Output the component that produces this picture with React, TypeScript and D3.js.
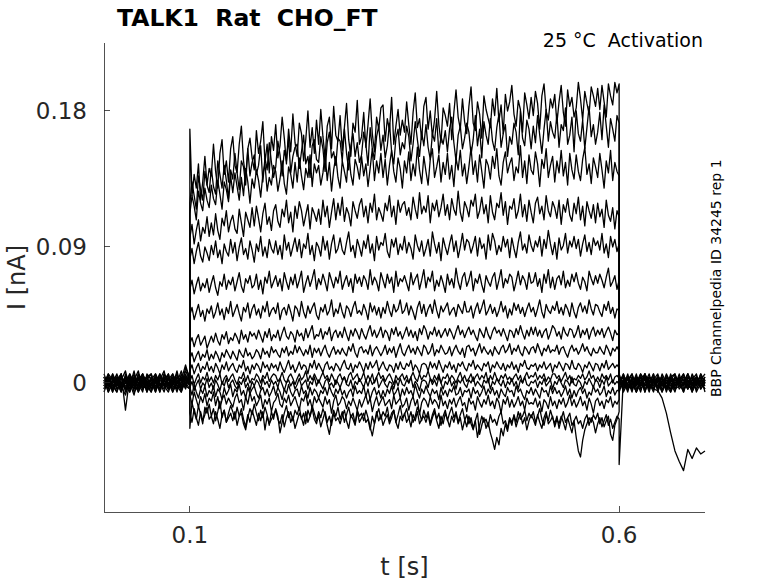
import * as d3 from 'd3';

// sweep timing (s)
const stepOn = 0.1;
const stepOff = 0.6;
const dtBase = 0.005; // sampling of the holding segments
const dtStep = 0.0025; // sampling during the step

const xTicks = [0.1, 0.6];
const yTicks = [0, 0.09, 0.18];
const xDomain: [number, number] = [0, 0.7];
const yDomain: [number, number] = [-0.0854, 0.225];

// currents in pA, one row per sweep
// before the step: 0 .. 0.1 s
const preStep: number[][] = [
  [2, -4, 6, 0, -6, 4, -2, 8, -4, 2, -6, 4, 0, -4, 6, -2, 2, -6, 4, 0, 2],
  [-2, 4, -6, 2, 6, -4, 0, -8, 4, -2, 2, 6, -4, 0, -6, 4, -2, 8, -4, 2, 0],
  [4, -2, 0, -6, 2, 8, -4, 2, -2, 6, -4, 0, 4, -6, 2, -2, 6, 0, -4, 10, 4],
  [0, 6, -4, 4, -2, -8, 2, -4, 6, 0, -2, 4, -6, 2, 8, -4, 0, 4, -2, 6, -2],
  [-4, 0, 4, -2, 6, -18, 4, 0, -6, 2, 4, -4, 0, 6, -2, -6, 2, 0, 8, -2, 4],
  [6, -2, 2, -4, 0, 4, -6, 2, 8, -4, 0, -2, 4, -4, 2, 6, -6, 0, 2, 12, 2],
  [-2, 2, -6, 4, -4, 0, 6, -2, -4, 4, 0, -6, 2, 4, -2, 0, 4, -4, 6, 0, -4],
  [2, -6, 0, 6, -2, 2, -4, 4, 0, -6, 6, 2, -2, -4, 4, 0, -6, 2, -2, 4, 0],
  [0, 4, -2, -6, 4, 0, 2, -4, 6, -2, -4, 2, 6, -2, 0, -4, 4, 2, -6, 2, 6],
  [-6, 2, 4, -2, 0, -4, 6, 0, -2, 4, -6, 0, 2, -4, 6, 2, -2, -4, 0, 8, 2],
  [4, 0, -4, 2, -6, 6, 0, -2, 2, -4, 4, 6, -2, 0, -4, 4, 0, 6, -2, -2, -4],
  [-4, 6, 2, -2, 4, -2, -6, 4, 0, 2, -2, -6, 4, 2, -2, 6, -4, 0, 4, 2, -2],
  [2, -2, 6, -4, 0, 2, 4, -6, -2, 6, 0, 2, -4, 6, 0, -4, 2, -2, -6, 4, 0],
  [0, -4, 2, 4, -4, 0, -2, 6, -6, 0, 4, -2, 2, -6, 4, 0, -2, 4, 2, -4, 6],
  [-2, 4, -2, 0, 6, -6, 2, 0, 4, -4, 2, -4, 6, 0, -2, 2, 6, -2, 0, 4, -2],
  [4, -6, 0, 2, -2, 4, 0, -4, 2, 6, -2, 0, -6, 4, 2, -2, 0, 6, -4, 0, 4],
];

// during the step: 0.1 .. 0.6 s
const duringStep: number[][] = [
  [168, 124, 138, 129, 145, 121, 133, 150, 131, 142,
   137, 158, 140, 129, 152, 161, 138, 147, 133, 155,
   163, 144, 139, 158, 170, 147, 136, 155, 162, 149,
   141, 167, 152, 160, 173, 146, 158, 139, 163, 154,
   171, 149, 157, 176, 162, 145, 168, 153, 178, 159,
   150, 172, 165, 147, 161, 180, 156, 169, 152, 174,
   158, 181, 163, 149, 170, 176, 155, 183, 164, 160,
   177, 154, 169, 185, 161, 150, 172, 166, 187, 158,
   163, 179, 156, 171, 188, 165, 153, 176, 168, 182,
   184, 160, 175, 167, 189, 158, 170, 181, 164, 174,
   166, 186, 171, 158, 179, 192, 169, 175, 161, 183,
   189, 168, 180, 163, 174, 193, 171, 159, 182, 177,
   170, 185, 161, 179, 194, 176, 168, 188, 173, 165,
   183, 196, 172, 167, 186, 178, 162, 190, 181, 175,
   169, 188, 177, 195, 173, 184, 165, 191, 180, 186,
   197, 178, 170, 187, 181, 166, 192, 184, 175, 189,
   177, 193, 185, 168, 190, 198, 180, 174, 188, 182,
   191, 172, 186, 197, 179, 170, 194, 183, 189, 176,
   182, 199, 188, 174, 193, 185, 178, 196, 190, 183,
   195, 181, 197, 186, 176, 198, 190, 184, 199, 192, 198],
  [119, 133, 124, 115, 137, 128, 121, 140, 131, 126,
   142, 130, 125, 147, 138, 129, 144, 134, 122, 141,
   135, 152, 139, 128, 147, 143, 131, 155, 137, 146,
   151, 138, 144, 157, 133, 149, 141, 159, 146, 136,
   143, 160, 151, 137, 154, 147, 162, 139, 150, 156,
   158, 142, 153, 164, 145, 150, 136, 157, 161, 148,
   146, 163, 155, 140, 159, 166, 149, 153, 144, 162,
   160, 147, 168, 152, 141, 157, 165, 150, 159, 146,
   151, 166, 158, 144, 169, 155, 148, 163, 170, 154,
   164, 149, 157, 172, 153, 145, 162, 168, 151, 159,
   155, 170, 163, 147, 158, 173, 161, 150, 166, 157,
   171, 156, 148, 165, 160, 175, 152, 163, 158, 167,
   153, 168, 176, 159, 147, 164, 170, 155, 162, 172,
   166, 151, 161, 177, 157, 168, 149, 173, 164, 158,
   175, 160, 154, 169, 178, 156, 165, 171, 150, 163,
   158, 172, 166, 151, 180, 162, 157, 174, 168, 155,
   170, 159, 177, 164, 152, 168, 181, 160, 173, 166,
   162, 178, 156, 171, 167, 182, 158, 164, 176, 153,
   180, 165, 160, 174, 155, 169, 183, 163, 171, 158,
   166, 179, 161, 184, 170, 156, 175, 168, 160, 177, 172],
  [112, 124, 117, 108, 127, 119, 114, 129, 121, 116,
   131, 122, 118, 134, 125, 115, 133, 128, 120, 137,
   126, 139, 130, 121, 136, 124, 142, 133, 119, 135,
   129, 141, 134, 123, 138, 145, 127, 136, 131, 144,
   140, 127, 135, 147, 132, 125, 143, 138, 129, 146,
   133, 149, 137, 128, 142, 136, 151, 130, 145, 139,
   144, 131, 139, 152, 134, 146, 127, 141, 150, 136,
   129, 147, 140, 133, 153, 138, 131, 148, 143, 135,
   150, 137, 145, 130, 142, 155, 134, 147, 139, 152,
   136, 148, 131, 144, 154, 140, 133, 149, 142, 129,
   147, 139, 153, 134, 145, 137, 156, 141, 132, 150,
   140, 131, 148, 155, 136, 143, 151, 133, 146, 138,
   152, 135, 144, 130, 149, 141, 154, 137, 145, 132,
   143, 156, 138, 147, 133, 151, 140, 129, 148, 144,
   135, 150, 142, 155, 137, 131, 146, 153, 139, 145,
   149, 134, 143, 139, 157, 136, 147, 132, 151, 141,
   138, 153, 145, 130, 148, 142, 155, 136, 144, 150,
   133, 147, 139, 154, 137, 146, 131, 152, 141, 135,
   151, 140, 134, 148, 156, 138, 145, 132, 149, 143,
   136, 152, 141, 129, 147, 139, 154, 134, 146, 140, 137],
  [96, 105, 92, 101, 108, 94, 103, 99, 110, 97,
   106, 98, 112, 101, 95, 109, 104, 114, 100, 107,
   111, 102, 99, 115, 106, 97, 113, 108, 103, 116,
   104, 117, 109, 100, 112, 119, 105, 110, 101, 114,
   118, 107, 103, 115, 110, 121, 106, 113, 100, 117,
   109, 120, 114, 104, 111, 118, 102, 116, 112, 107,
   115, 105, 121, 110, 117, 103, 113, 122, 108, 119,
   111, 123, 107, 116, 112, 104, 120, 114, 109, 118,
   122, 110, 117, 106, 119, 113, 125, 108, 116, 112,
   107, 119, 114, 124, 110, 117, 105, 121, 113, 118,
   120, 111, 116, 108, 123, 115, 109, 126, 112, 117,
   113, 124, 106, 119, 114, 121, 110, 116, 125, 111,
   118, 108, 122, 115, 111, 127, 113, 107, 120, 116,
   110, 121, 117, 125, 109, 114, 123, 112, 118, 106,
   124, 113, 108, 119, 116, 126, 111, 120, 105, 117,
   115, 122, 109, 114, 125, 110, 118, 107, 121, 113,
   106, 119, 123, 112, 117, 108, 124, 114, 110, 120,
   116, 109, 121, 105, 118, 113, 122, 111, 107, 119,
   112, 123, 108, 117, 104, 120, 114, 109, 118, 106,
   119, 110, 115, 103, 121, 111, 107, 116, 102, 114, 110],
  [82, 89, 79, 87, 93, 84, 80, 90, 86, 81,
   91, 85, 94, 83, 88, 79, 92, 87, 84, 95,
   86, 93, 81, 90, 96, 85, 89, 82, 94, 88,
   80, 92, 87, 97, 84, 90, 83, 95, 89, 86,
   94, 85, 91, 82, 98, 88, 93, 84, 90, 96,
   87, 95, 83, 92, 89, 99, 85, 91, 81, 93,
   90, 84, 97, 88, 94, 82, 92, 98, 86, 89,
   96, 88, 85, 93, 100, 87, 91, 83, 95, 90,
   84, 94, 89, 98, 86, 92, 81, 97, 88, 93,
   91, 99, 87, 83, 95, 90, 96, 85, 92, 88,
   97, 86, 93, 89, 82, 98, 91, 87, 94, 84,
   89, 95, 84, 100, 92, 86, 93, 81, 96, 90,
   85, 92, 98, 87, 94, 83, 90, 99, 88, 95,
   93, 86, 91, 97, 84, 96, 89, 92, 82, 98,
   88, 99, 94, 85, 91, 87, 97, 90, 95, 83,
   96, 89, 83, 93, 100, 88, 92, 86, 98, 91,
   87, 94, 90, 97, 84, 95, 89, 101, 92, 85,
   93, 82, 96, 88, 91, 99, 86, 94, 90, 97,
   89, 95, 84, 92, 98, 87, 93, 85, 96, 91,
   94, 88, 99, 86, 92, 83, 97, 90, 95, 87, 92],
  [62, 68, 59, 65, 70, 61, 66, 63, 69, 60,
   66, 71, 63, 58, 67, 64, 72, 62, 68, 65,
   70, 61, 67, 73, 64, 60, 69, 66, 71, 63,
   65, 72, 62, 68, 59, 70, 66, 74, 63, 67,
   71, 64, 69, 61, 73, 67, 62, 70, 65, 72,
   63, 68, 74, 60, 66, 71, 64, 69, 75, 62,
   69, 65, 72, 67, 61, 73, 68, 63, 70, 66,
   74, 62, 67, 71, 64, 69, 60, 72, 66, 70,
   64, 71, 68, 62, 75, 65, 70, 67, 61, 73,
   68, 63, 72, 66, 70, 60, 74, 64, 69, 67,
   71, 66, 61, 73, 65, 69, 72, 62, 68, 75,
   63, 70, 67, 74, 61, 68, 64, 71, 66, 60,
   72, 65, 69, 63, 76, 67, 62, 70, 73, 64,
   68, 74, 61, 69, 66, 72, 65, 60, 71, 67,
   64, 70, 73, 62, 68, 75, 63, 69, 66, 72,
   70, 61, 67, 74, 65, 71, 68, 62, 73, 66,
   67, 73, 64, 69, 60, 72, 66, 75, 63, 70,
   62, 69, 71, 65, 74, 63, 68, 64, 72, 67,
   73, 66, 62, 70, 67, 61, 74, 69, 65, 71,
   66, 72, 68, 63, 70, 76, 64, 67, 71, 62, 68],
  [45, 50, 42, 47, 52, 44, 48, 41, 49, 46,
   51, 43, 47, 53, 45, 49, 42, 50, 46, 54,
   44, 48, 52, 46, 41, 50, 47, 53, 43, 49,
   52, 45, 49, 43, 51, 47, 54, 44, 48, 50,
   46, 53, 42, 48, 50, 45, 52, 47, 41, 51,
   49, 44, 54, 47, 43, 51, 46, 50, 53, 45,
   42, 50, 47, 52, 45, 48, 55, 44, 49, 46,
   53, 47, 43, 51, 49, 44, 50, 54, 46, 48,
   45, 52, 48, 42, 53, 47, 51, 45, 50, 43,
   50, 46, 54, 48, 44, 52, 47, 49, 55, 46,
   48, 53, 45, 51, 47, 42, 50, 54, 46, 52,
   44, 49, 52, 46, 55, 48, 43, 51, 47, 50,
   53, 45, 48, 50, 44, 52, 49, 46, 54, 47,
   47, 51, 43, 49, 53, 46, 50, 55, 45, 48,
   52, 46, 50, 44, 48, 54, 47, 51, 43, 49,
   45, 53, 48, 52, 46, 50, 44, 49, 53, 47,
   50, 44, 49, 55, 47, 43, 52, 48, 46, 51,
   48, 54, 46, 50, 45, 52, 49, 44, 53, 47,
   43, 50, 53, 47, 51, 46, 55, 49, 45, 52,
   51, 47, 44, 52, 48, 54, 46, 50, 43, 49, 48],
  [26, 30, 24, 29, 32, 25, 28, 31, 23, 27,
   31, 27, 33, 28, 25, 32, 29, 34, 26, 30,
   28, 33, 30, 26, 35, 29, 32, 27, 34, 31,
   33, 29, 35, 31, 27, 34, 30, 36, 28, 32,
   30, 35, 28, 33, 37, 31, 29, 34, 32, 27,
   35, 31, 33, 28, 36, 30, 34, 38, 29, 32,
   31, 36, 29, 34, 32, 37, 28, 33, 35, 30,
   34, 30, 37, 32, 28, 35, 31, 36, 33, 29,
   36, 32, 29, 34, 38, 31, 35, 30, 33, 37,
   30, 35, 33, 28, 36, 32, 37, 31, 34, 29,
   33, 37, 31, 35, 30, 34, 28, 36, 32, 38,
   35, 29, 34, 32, 37, 31, 35, 30, 33, 36,
   31, 36, 33, 29, 34, 38, 32, 35, 30, 34,
   37, 32, 35, 31, 28, 36, 33, 30, 37, 32,
   29, 34, 37, 33, 35, 31, 36, 32, 28, 35,
   34, 30, 36, 32, 38, 33, 29, 35, 31, 37,
   32, 37, 31, 35, 30, 34, 36, 29, 33, 38,
   36, 31, 34, 29, 37, 33, 31, 36, 35, 30,
   33, 38, 30, 35, 32, 36, 29, 34, 37, 31,
   35, 32, 36, 30, 34, 37, 33, 28, 35, 32, 33],
  [16, 20, 14, 18, 21, 15, 19, 17, 22, 15,
   19, 16, 21, 18, 14, 20, 17, 22, 19, 16,
   21, 18, 15, 22, 19, 17, 23, 18, 20, 16,
   18, 22, 20, 16, 23, 19, 21, 17, 24, 20,
   22, 19, 17, 23, 20, 24, 18, 21, 19, 25,
   20, 24, 21, 18, 22, 19, 25, 17, 23, 20,
   23, 18, 22, 25, 20, 17, 21, 24, 19, 22,
   19, 23, 20, 18, 24, 21, 26, 20, 17, 23,
   24, 20, 22, 19, 25, 18, 22, 24, 21, 18,
   21, 25, 19, 23, 20, 24, 17, 22, 26, 20,
   18, 22, 25, 20, 23, 19, 24, 21, 18, 25,
   23, 19, 21, 26, 18, 22, 20, 25, 22, 19,
   20, 24, 18, 22, 25, 21, 19, 23, 17, 24,
   25, 21, 23, 18, 22, 26, 20, 24, 21, 19,
   22, 18, 24, 21, 19, 23, 25, 20, 22, 26,
   19, 23, 21, 25, 20, 18, 24, 22, 19, 23,
   24, 20, 26, 22, 18, 23, 21, 25, 20, 22,
   21, 25, 19, 23, 24, 20, 17, 22, 25, 21,
   23, 19, 22, 26, 21, 24, 20, 18, 23, 20,
   20, 24, 21, 19, 25, 22, 18, 23, 21, 24, 21],
  [8, 12, 6, 10, 13, 7, 11, 9, 14, 8,
   11, 7, 13, 10, 6, 12, 9, 14, 8, 11,
   13, 9, 7, 12, 10, 15, 8, 11, 6, 12,
   9, 13, 11, 7, 14, 10, 12, 8, 13, 10,
   12, 8, 14, 10, 7, 11, 15, 9, 12, 7,
   10, 14, 9, 12, 11, 6, 13, 10, 15, 9,
   13, 10, 7, 12, 14, 9, 11, 8, 13, 11,
   8, 12, 15, 10, 9, 13, 7, 12, 10, 14,
   11, 7, 13, 9, 14, 10, 12, 15, 8, 11,
   14, 10, 8, 12, 11, 7, 13, 9, 14, 10,
   9, 13, 11, 15, 8, 12, 10, 6, 12, 13,
   12, 8, 14, 10, 13, 9, 15, 11, 7, 12,
   10, 14, 9, 12, 7, 13, 11, 14, 10, 8,
   13, 11, 15, 9, 12, 10, 8, 13, 11, 14,
   7, 12, 10, 14, 11, 9, 13, 8, 12, 10,
   14, 9, 12, 7, 13, 11, 15, 10, 9, 12,
   11, 13, 8, 12, 10, 14, 9, 11, 13, 7,
   12, 10, 14, 11, 8, 13, 12, 9, 15, 10,
   9, 13, 11, 7, 12, 10, 14, 11, 8, 13,
   12, 8, 13, 10, 15, 9, 11, 13, 10, 12, 10],
  [1, 5, -1, 3, 6, 0, 4, 2, 7, 1,
   4, 0, 5, 2, 6, -1, 3, 5, 1, 4,
   6, 2, -1, 4, 3, 7, 1, 5, 0, 3,
   2, 6, 4, 0, 5, 3, 7, 1, 4, 6,
   5, 1, 3, 7, 2, 0, 4, 6, 3, -1,
   3, 6, 2, 4, 8, 1, 5, 2, 6, 3,
   0, 4, 7, 3, 5, 1, 6, 3, -1, 4,
   6, 2, 4, 0, 5, 7, 2, 4, 6, 1,
   3, 7, 1, 5, 2, 6, 0, 4, 7, 3,
   5, 1, 4, 6, 3, -1, 5, 2, 4, 6,
   2, 5, 0, 4, 7, 3, 1, 6, 2, 5,
   4, 8, 3, 1, 5, 2, 6, 0, 4, 3,
   6, 2, 5, 3, 0, 4, 7, 2, 5, 1,
   3, 6, 1, 4, 6, 2, 5, 3, 7, 0,
   5, 2, 7, 3, 1, 5, 3, 6, 2, 4,
   1, 4, 6, 2, 5, 0, 4, 7, 3, 5,
   4, 7, 2, 5, 3, 6, 1, 4, 2, 6,
   6, 3, 5, 1, 4, 7, 2, 5, 0, 3,
   2, 5, 3, 6, 2, 4, 8, 3, 5, 1,
   4, 1, 6, 3, 5, 2, 6, 0, 4, 5, 3],
  [-3, 1, -5, -1, 2, -4, 0, -2, 3, -3,
   0, -4, 2, -1, -5, 1, -2, 3, -3, 0,
   2, -2, -4, 1, -1, 3, -3, 0, -5, 1,
   -2, 2, 0, -4, 3, -1, 1, -3, 2, -1,
   1, -3, 3, -1, -5, 0, 2, -2, 1, -4,
   -1, 3, -2, 0, 2, -4, 1, -1, 4, -2,
   2, -1, -4, 1, 3, -2, 0, -3, 2, 0,
   -3, 1, 4, -1, -2, 2, -4, 1, -1, 3,
   0, -3, 2, -2, 3, -1, 1, 4, -3, 0,
   3, -1, -3, 1, 0, -4, 2, -2, 3, -1,
   -2, 2, 0, 4, -3, 1, -1, -5, 1, 2,
   1, -3, 3, -1, 2, -2, 4, 0, -4, 1,
   -1, 3, -2, 1, -4, 2, 0, 3, -1, -3,
   2, 0, 4, -2, 1, -1, -3, 2, 0, 3,
   -4, 1, -1, 3, 0, -2, 2, -3, 1, -1,
   3, -2, 1, -4, 2, 0, 4, -1, -2, 1,
   0, 2, -3, 1, -1, 3, -2, 0, 2, -4,
   1, -1, 3, 0, -3, 2, 1, -2, 4, -1,
   -2, 2, 0, -4, 1, -1, 3, 0, -3, 2,
   1, -3, 2, -1, 4, -2, 0, 2, -1, 1, -1],
  [-3, -8, -1, -6, -10, -4, -7, -2, -9, -5,
   -7, -2, -9, -4, -6, -11, -3, -8, -5, -1,
   -9, -4, -6, -1, -8, -5, -10, -3, -7, -4,
   -2, -7, -10, -5, -3, -8, -4, -9, -6, -2,
   -8, -3, -6, -11, -4, -7, -1, -6, -9, -5,
   -4, -9, -2, -7, -5, -10, -3, -8, -4, -6,
   -10, -5, -7, -3, -8, -2, -6, -9, -4, -7,
   -3, -8, -5, -10, -6, -4, -9, -2, -7, -5,
   -7, -2, -9, -4, -11, -6, -3, -8, -5, -10,
   -5, -9, -4, -7, -2, -8, -6, -3, -10, -4,
   -8, -3, -7, -5, -9, -1, -6, -10, -4, -7,
   -2, -6, -9, -4, -7, -5, -11, -3, -8, -5,
   -9, -4, -6, -2, -8, -7, -3, -9, -5, -6,
   -4, -10, -3, -7, -5, -9, -6, -2, -8, -4,
   -7, -3, -8, -5, -10, -4, -7, -9, -3, -6,
   -5, -9, -2, -6, -4, -8, -11, -5, -7, -3,
   -8, -4, -7, -10, -3, -6, -5, -9, -2, -7,
   -3, -7, -5, -9, -6, -2, -8, -4, -10, -5,
   -9, -5, -3, -7, -4, -10, -6, -8, -2, -6,
   -4, -8, -6, -2, -9, -5, -7, -3, -8, -5, -5],
  [-8, -14, -6, -11, -16, -9, -13, -7, -15, -10,
   -12, -6, -15, -9, -17, -11, -8, -14, -10, -13,
   -16, -10, -7, -13, -11, -18, -9, -14, -6, -12,
   -9, -15, -12, -8, -17, -11, -14, -10, -19, -13,
   -11, -7, -14, -16, -10, -13, -8, -15, -12, -9,
   -14, -18, -10, -12, -7, -15, -11, -17, -9, -13,
   -10, -13, -16, -9, -14, -11, -20, -12, -8, -15,
   -13, -9, -11, -17, -12, -15, -10, -14, -18, -11,
   -16, -12, -8, -14, -10, -19, -13, -9, -15, -12,
   -9, -15, -13, -11, -17, -8, -14, -12, -10, -16,
   -14, -10, -18, -12, -9, -15, -11, -21, -13, -10,
   -12, -16, -9, -14, -11, -13, -17, -8, -15, -12,
   -17, -11, -14, -10, -16, -12, -9, -15, -13, -19,
   -10, -14, -12, -18, -9, -13, -16, -11, -14, -8,
   -15, -12, -17, -10, -13, -20, -11, -14, -9, -16,
   -11, -16, -13, -9, -15, -12, -18, -10, -14, -13,
   -14, -10, -16, -12, -19, -11, -13, -17, -9, -15,
   -12, -17, -11, -14, -10, -16, -13, -8, -15, -11,
   -16, -13, -9, -15, -12, -18, -10, -14, -20, -12,
   -10, -15, -12, -17, -11, -13, -9, -16, -12, -14, -11],
  [-30, -13, -19, -24, -15, -21, -27, -16, -20, -14,
   -22, -17, -25, -19, -12, -23, -18, -26, -20, -15,
   -19, -24, -16, -22, -20, -27, -31, -23, -17, -21,
   -14, -20, -25, -18, -23, -16, -21, -28, -19, -24,
   -17, -22, -33, -26, -20, -15, -23, -19, -25, -18,
   -21, -16, -24, -20, -27, -18, -22, -15, -20, -25,
   -19, -23, -17, -21, -28, -34, -25, -18, -22, -16,
   -24, -19, -26, -21, -16, -23, -20, -27, -18, -22,
   -20, -25, -18, -23, -29, -35, -27, -21, -17, -24,
   -19, -22, -16, -25, -20, -18, -26, -21, -15, -23,
   -21, -17, -24, -19, -26, -22, -16, -20, -25, -18,
   -23, -19, -27, -21, -17, -24, -20, -28, -22, -18,
   -25, -20, -16, -23, -19, -26, -21, -17, -24, -29,
   -22, -27, -31, -25, -20, -34, -28, -23, -30, -26,
   -33, -38, -44, -36, -41, -30, -35, -27, -32, -24,
   -28, -21, -26, -19, -24, -22, -18, -25, -20, -23,
   -19, -26, -22, -17, -24, -28, -21, -25, -18, -23,
   -27, -22, -30, -24, -19, -26, -23, -28, -33, -25,
   -36, -45, -49, -38, -31, -27, -23, -26, -21, -24,
   -20, -27, -23, -29, -25, -22, -34, -38, -28, -24, -19],
  [-20, -26, -17, -23, -28, -19, -25, -21, -16, -24,
   -22, -27, -19, -24, -30, -21, -18, -26, -23, -20,
   -25, -19, -28, -22, -17, -24, -29, -21, -26, -18,
   -23, -28, -20, -25, -19, -31, -22, -27, -24, -21,
   -18, -24, -27, -21, -29, -23, -19, -26, -22, -30,
   -25, -20, -23, -28, -19, -26, -22, -17, -24, -27,
   -21, -29, -24, -19, -26, -22, -28, -20, -25, -23,
   -27, -22, -18, -25, -30, -21, -24, -28, -19, -26,
   -23, -20, -26, -24, -31, -22, -27, -19, -25, -21,
   -28, -24, -21, -27, -23, -18, -26, -30, -22, -25,
   -20, -26, -23, -29, -21, -25, -19, -27, -24, -22,
   -26, -21, -28, -23, -19, -25, -30, -22, -27, -20,
   -24, -29, -22, -26, -20, -27, -23, -31, -25, -21,
   -27, -23, -30, -25, -36, -28, -22, -26, -24, -29,
   -21, -26, -24, -28, -22, -19, -27, -25, -30, -23,
   -26, -22, -29, -24, -20, -27, -23, -31, -25, -21,
   -24, -28, -21, -26, -30, -23, -19, -27, -25, -22,
   -29, -24, -27, -22, -26, -31, -23, -20, -28, -25,
   -22, -27, -25, -30, -24, -21, -28, -23, -26, -33,
   -27, -23, -29, -25, -21, -28, -24, -30, -26, -22, -24],
];

// after the step: 0.6 .. 0.7 s
const afterStep: number[][] = [
  [6, -2, 4, -4, 0, 6, -6, 2, -2, 4, 0, -4, 6, -2, 2, -6, 4, 0, -4, 2, 6],
  [-4, 2, -6, 4, 0, -2, 6, -4, 2, 0, -6, 4, 2, -2, 6, -4, 0, 4, -2, 6, 0],
  [0, 4, 2, -6, 4, -2, 0, 6, -4, 2, 4, -2, -6, 4, 0, 2, -4, 6, 0, -2, 2],
  [2, -4, 0, 6, -2, 4, -4, 0, 6, -6, 2, 0, 4, -4, 2, 6, -2, -4, 4, 0, -4],
  [-2, 6, -4, 0, 2, -6, 4, -2, 0, 4, -2, 6, 0, -4, -2, 4, 2, -6, 0, 4, 2],
  [4, 0, -2, 2, -6, 0, 6, -4, 2, -2, 4, -6, 2, 0, 4, -2, 6, 0, -4, 2, -2],
  [-6, 2, 4, -2, 6, -4, 0, 4, -2, 2, -4, 0, 4, 6, -2, 0, -4, 2, 6, -4, 0],
  [0, -2, 6, -4, 2, 4, -2, 0, -6, 4, 2, -2, -4, 2, 0, 6, -2, 4, -6, 0, 4],
  [2, 4, -4, 0, -2, 6, 2, -6, 4, 0, -2, 4, 0, -6, 4, 2, -2, 0, 4, -4, 2],
  [-4, 0, 2, 6, -4, 0, -2, 4, 2, -4, 6, 0, -2, 4, -4, 0, 6, -2, 2, 4, -6],
  [4, -6, 0, 2, 4, -2, 6, 0, -4, 2, -2, 4, -6, 0, 2, 4, -4, 2, 0, -2, 4],
  [-2, 2, -4, 4, 0, 2, -6, 4, 0, -2, 4, -4, 2, 6, -2, -4, 0, 4, -2, 6, 0],
  [0, 6, -2, -4, 4, 0, 2, -2, 6, -4, 0, 2, -2, 4, 0, -6, 2, -2, 4, 0, -4],
  [2, -4, 4, 0, -6, 4, -2, 2, 0, 4, -6, 0, 4, -4, 2, 0, 6, -4, 2, -2, 2],
  [0, -2, 4, -4, 2, 0, 6, -2, -4, -5, -10, -20, -33, -45, -52, -58, -44, -50, -43, -47, -45],
  [-54, 4, -2, 2, -6, 0, 4, -4, 2, 6, -2, 0, -4, 4, 0, -2, 2, -6, 4, 0, -2],
];

const W = 778;
const H = 583;
const left = 104;
const right = 705;
const top = 43;
const bottom = 512;
const font = '"DejaVu Sans", sans-serif';
const axisColor = '#262626';

export default function App() {
  const x = d3.scaleLinear().domain(xDomain).range([left, right]);
  const y = d3.scaleLinear().domain(yDomain).range([bottom, top]);

  const line = d3
    .line<[number, number]>()
    .x((d) => x(d[0]))
    .y((d) => y(d[1] / 1000));

  const sweeps = duringStep.map((during, i) => {
    const pts: [number, number][] = [];
    preStep[i].forEach((v, k) => pts.push([k * dtBase, v]));
    during.forEach((v, k) => pts.push([stepOn + k * dtStep, v]));
    afterStep[i].forEach((v, k) => pts.push([stepOff + k * dtBase, v]));
    return pts;
  });

  return (
    <svg
      width={W}
      height={H}
      style={{ position: 'absolute', left: 0, top: 0, background: '#fff' }}
      fontFamily={font}
    >
      <g fill="none" stroke="#000" strokeWidth={1.3} strokeLinejoin="round">
        {sweeps.map((pts, i) => (
          <path key={i} d={line(pts) ?? ''} />
        ))}
      </g>

      {/* axes, ticks point inwards */}
      <g stroke={axisColor} strokeWidth={0.8} shapeRendering="crispEdges">
        <line x1={left} x2={left} y1={top} y2={bottom} />
        <line x1={left} x2={right} y1={bottom} y2={bottom} />
        {yTicks.map((t) => (
          <line key={t} x1={left} x2={left + 6} y1={y(t)} y2={y(t)} />
        ))}
        {xTicks.map((t) => (
          <line key={t} x1={x(t)} x2={x(t)} y1={bottom} y2={bottom - 6} />
        ))}
      </g>
      <g fill={axisColor} fontSize={23}>
        {yTicks.map((t) => (
          <text key={t} x={left - 17} y={y(t)} dy="0.35em" textAnchor="end">
            {t === 0 ? '0' : String(t)}
          </text>
        ))}
        {xTicks.map((t) => (
          <text key={t} x={x(t)} y={543} textAnchor="middle">
            {String(t)}
          </text>
        ))}
      </g>
      <text x={(left + right) / 2} y={575} textAnchor="middle" fontSize={24} fill={axisColor}>
        t [s]
      </text>
      <text
        transform={`translate(25,${(top + bottom) / 2}) rotate(-90)`}
        textAnchor="middle"
        fontSize={24}
        fill={axisColor}
      >
        I [nA]
      </text>

      <text x={117} y={26} fontSize={23.5} fontWeight="bold" fill="#000" style={{ whiteSpace: 'pre' }}>
        TALK1  Rat  CHO_FT
      </text>
      <text x={703} y={47} textAnchor="end" fontSize={19} fill="#000" style={{ whiteSpace: 'pre' }}>
        25 °C  Activation
      </text>
      <text transform="translate(721,397) rotate(-90)" fontSize={14} fill="#000">
        BBP Channelpedia ID 34245 rep 1
      </text>
    </svg>
  );
}
